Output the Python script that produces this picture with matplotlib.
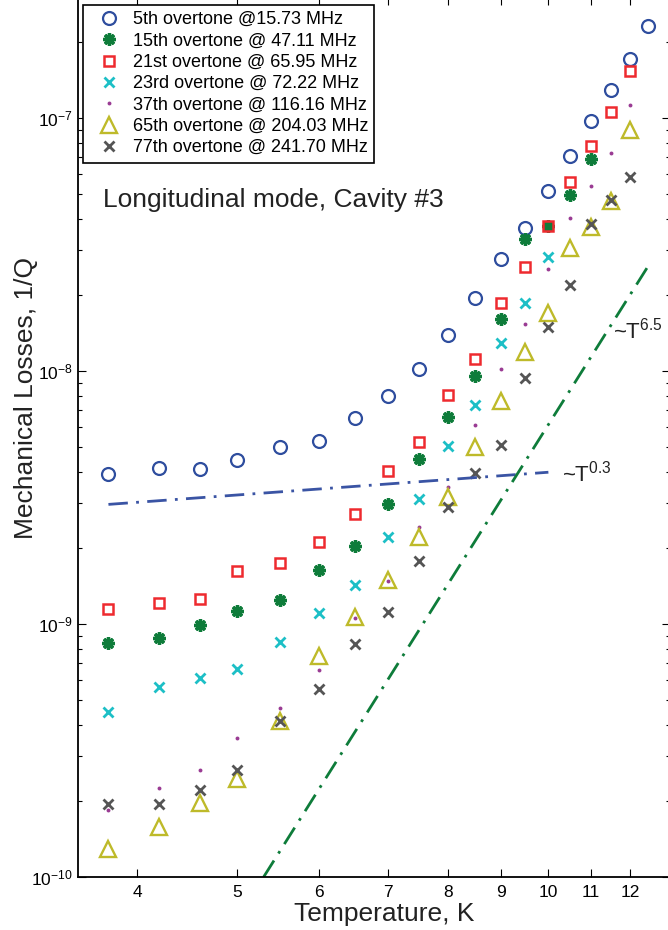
import numpy as np
import matplotlib
matplotlib.use("Agg")
import matplotlib.pyplot as plt
from matplotlib.ticker import FixedLocator, NullFormatter, LogLocator

plt.rcParams['font.family'] = ['Liberation Sans', 'DejaVu Sans']
plt.rcParams['mathtext.fontset'] = 'custom'
plt.rcParams['mathtext.rm'] = 'Liberation Sans'
plt.rcParams['mathtext.it'] = 'Liberation Sans:italic'

# temperatures, K
temp = [3.75, 4.2, 4.6, 5.0, 5.5, 6.0, 6.5, 7.0, 7.5, 8.0, 8.5, 9.0, 9.5,
        10.0, 10.5, 11.0, 11.5, 12.0, 12.5]

# 1/Q for each overtone
loss_5th = [3.92e-9, 4.15e-9, 4.10e-9, 4.46e-9, 5.01e-9, 5.29e-9, 6.54e-9,
            7.99e-9, 1.018e-8, 1.388e-8, 1.949e-8, 2.76e-8, 3.67e-8, 5.15e-8,
            7.10e-8, 9.70e-8, 1.287e-7, 1.716e-7, 2.30e-7]
loss_15th = [8.39e-10, 8.78e-10, 9.91e-10, 1.129e-9, 1.244e-9, 1.635e-9,
             2.04e-9, 2.98e-9, 4.50e-9, 6.56e-9, 9.55e-9, 1.605e-8, 3.33e-8,
             3.74e-8, 4.96e-8, 6.87e-8]
loss_21st = [1.146e-9, 1.214e-9, 1.252e-9, 1.62e-9, 1.747e-9, 2.115e-9,
             2.714e-9, 4.02e-9, 5.23e-9, 8.04e-9, 1.115e-8, 1.862e-8, 2.58e-8,
             3.74e-8, 5.60e-8, 7.77e-8, 1.053e-7, 1.53e-7]
loss_23rd = [4.50e-10, 5.62e-10, 6.12e-10, 6.64e-10, 8.51e-10, 1.108e-9,
             1.426e-9, 2.21e-9, 3.11e-9, 5.07e-9, 7.34e-9, 1.294e-8, 1.862e-8,
             2.81e-8]
loss_37th = [1.84e-10, 2.24e-10, 2.65e-10, 3.53e-10, 4.64e-10, 6.58e-10,
             1.06e-9, 1.479e-9, 2.41e-9, 3.49e-9, 6.12e-9, 1.016e-8, 1.53e-8,
             2.52e-8, 4.01e-8, 5.40e-8, 7.29e-8, 1.123e-7]
loss_65th = [1.29e-10, 1.58e-10, 1.97e-10, 2.45e-10, 4.14e-10, 7.47e-10,
             1.069e-9, 1.492e-9, 2.20e-9, 3.19e-9, 5.02e-9, 7.61e-9, 1.192e-8,
             1.69e-8, 3.05e-8, 3.72e-8, 4.70e-8, 8.97e-8]
loss_77th = [1.944e-10, 1.944e-10, 2.21e-10, 2.65e-10, 4.14e-10, 5.52e-10,
             8.34e-10, 1.118e-9, 1.774e-9, 2.89e-9, 3.96e-9, 5.10e-9, 9.41e-9,
             1.486e-8, 2.19e-8, 3.81e-8, 4.74e-8, 5.83e-8]

labels = ['5th overtone @15.73 MHz', '15th overtone @ 47.11 MHz',
          '21st overtone @ 65.95 MHz', '23rd overtone @ 72.22 MHz',
          '37th overtone @ 116.16 MHz', '65th overtone @ 204.03 MHz',
          '77th overtone @ 241.70 MHz']

# guide lines (end points)
fit03_t = [3.75, 10.0]
fit03_q = [2.97e-9, 3.98e-9]
fit65_t = [5.3, 12.5]
fit65_q = [1.0e-10, 2.61e-8]

xticks = [4, 5, 6, 7, 8, 9, 10, 11, 12]

fig = plt.figure(figsize=(6.68, 9.30), dpi=100)
ax = fig.add_axes([77.5 / 668, 53 / 930, 592 / 668, 879.7 / 930])

ax.loglog(temp, loss_5th, 'o', ls='none', ms=9.3, mfc='none', mec='#2E4D9E', mew=1.6, label=labels[0])
ax.loglog(temp[:len(loss_15th)], loss_15th, marker=(8, 2, 0), ls='none', ms=9,
          mec='#0E7C3A', mew=2.4, label=labels[1])
ax.loglog(temp[:len(loss_21st)], loss_21st, 's', ls='none', ms=7.5, mfc='none', mec='#EE2A2F', mew=1.8, label=labels[2])
ax.loglog(temp[:len(loss_23rd)], loss_23rd, 'x', ls='none', ms=7, mec='#1DBFC6', mew=2, label=labels[3])
ax.loglog(temp[:len(loss_37th)], loss_37th, 'o', ls='none', ms=2.8, mfc='#9A3B93', mec='none', label=labels[4])
ax.loglog(temp[:len(loss_65th)], loss_65th, '^', ls='none', ms=11, mfc='none', mec='#BEBA2A', mew=1.7, label=labels[5])
ax.loglog(temp[:len(loss_77th)], loss_77th, 'x', ls='none', ms=6.5, mec='#555555', mew=2, label=labels[6])

dashdot = (0, (7, 3, 1, 3))
ax.plot(fit03_t, fit03_q, color='#3A54A4', lw=2, ls=dashdot)
ax.plot(fit65_t, fit65_q, color='#0E7C3A', lw=2, ls=dashdot)

ax.text(11.55, 1.34e-8, '~T$^{6.5}$', fontsize=16, ha='left', va='baseline', color='#222222')
ax.text(10.3, 3.65e-9, '~T$^{0.3}$', fontsize=16, ha='left', va='baseline', color='#222222')
ax.text(0.043, 0.762, 'Longitudinal mode, Cavity #3', fontsize=19,
        transform=ax.transAxes, ha='left', va='baseline', color='#222222')

ax.set_xlim(3.5, 13.1)
ax.set_ylim(1e-10, 3e-7)
ax.xaxis.set_major_locator(FixedLocator(xticks))
ax.xaxis.set_minor_locator(FixedLocator([]))
ax.xaxis.set_minor_formatter(NullFormatter())
ax.set_xticklabels([str(t) for t in xticks])
ax.yaxis.set_major_locator(LogLocator(base=10, numticks=10))
ax.yaxis.set_minor_locator(LogLocator(base=10, subs=np.arange(2, 10), numticks=20))
ax.yaxis.set_minor_formatter(NullFormatter())

ax.tick_params(which='both', direction='in', top=True, right=True, width=0.8, labelsize=12.5)
ax.tick_params(which='major', length=6)
ax.tick_params(which='minor', length=3)
ax.tick_params(axis='x', pad=6)
for sp in ax.spines.values():
    sp.set_linewidth(1.3)

ax.set_xlabel('Temperature, K', fontsize=19, color='#222222')
ax.set_ylabel('Mechanical Losses, 1/Q', fontsize=19, color='#222222')
ax.xaxis.set_label_coords(0.518, -0.0285)
ax.yaxis.set_label_coords(-0.067, 0.5445)

leg = ax.legend(loc='upper left', bbox_to_anchor=(0.0093, 0.9913), borderaxespad=0,
                fontsize=13, numpoints=1, handlelength=2.2, handletextpad=0.2,
                borderpad=0.35, labelspacing=0.24, fancybox=False, framealpha=1)
leg.get_frame().set_edgecolor('black')
leg.get_frame().set_linewidth(1.2)

fig.savefig('out.png', dpi=100)
